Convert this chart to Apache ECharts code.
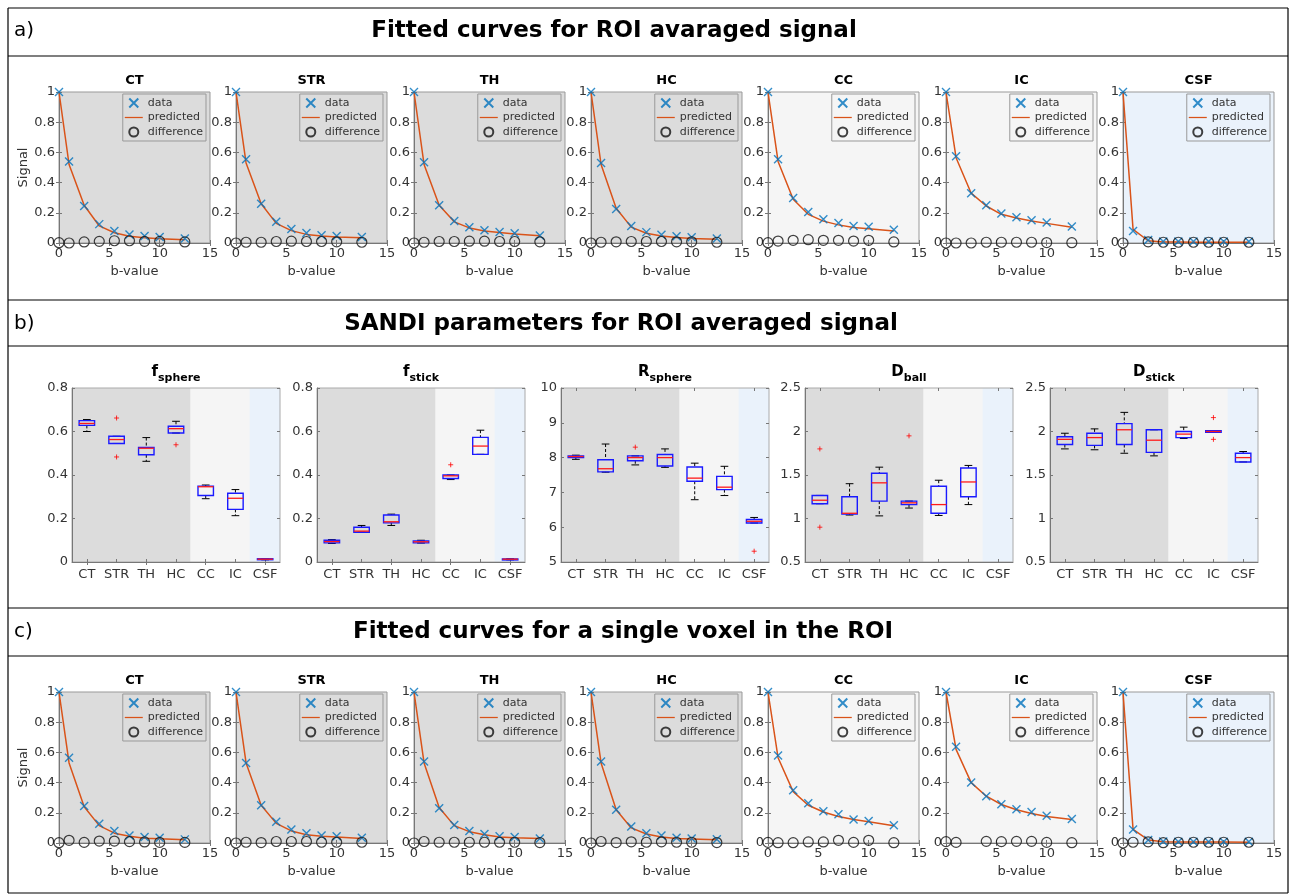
<!DOCTYPE html>
<html>
<head>
<meta charset="utf-8">
<title>SANDI fitted curves</title>
<script src="https://cdn.jsdelivr.net/npm/echarts@6/dist/echarts.min.js"></script>
<style>
html, body { margin: 0; padding: 0; background: #fff; }
#main { width: 1290px; height: 896px; }
</style>
</head>
<body>
<div id="main"></div>
<script>
var FONT = 'DejaVu Sans';

// regions and b-values
var regions = ['CT', 'STR', 'TH', 'HC', 'CC', 'IC', 'CSF'];
var bValues = [0, 1, 2.5, 4, 5.5, 7, 8.5, 10, 12.5];

// a) ROI averaged signal, one row per region
var roiData = [
    [1, 0.54, 0.245, 0.125, 0.08, 0.057, 0.046, 0.04, 0.03],
    [1, 0.555, 0.26, 0.14, 0.092, 0.066, 0.052, 0.046, 0.04],
    [1, 0.535, 0.25, 0.145, 0.105, 0.085, 0.073, 0.065, 0.05],
    [1, 0.53, 0.225, 0.112, 0.072, 0.055, 0.045, 0.038, 0.03],
    [1, 0.555, 0.298, 0.205, 0.157, 0.132, 0.113, 0.108, 0.088],
    [1, 0.575, 0.33, 0.25, 0.195, 0.17, 0.15, 0.135, 0.11],
    [1, 0.08, 0.02, 0.01, 0.01, 0.01, 0.01, 0.01, 0.01]
];
var roiPred = [
    [1, 0.52, 0.25, 0.113, 0.068, 0.045, 0.034, 0.028, 0.022],
    [1, 0.53, 0.26, 0.13, 0.082, 0.057, 0.046, 0.04, 0.034],
    [1, 0.52, 0.25, 0.14, 0.1, 0.08, 0.069, 0.06, 0.048],
    [1, 0.52, 0.23, 0.105, 0.065, 0.046, 0.036, 0.03, 0.025],
    [1, 0.54, 0.29, 0.19, 0.145, 0.12, 0.102, 0.095, 0.08],
    [1, 0.565, 0.33, 0.245, 0.19, 0.165, 0.145, 0.13, 0.105],
    [1, 0.09, 0.015, 0.007, 0.006, 0.005, 0.005, 0.005, 0.005]
];
var roiDiff = [
    [0.002, 0, 0.007, 0.011, 0.015, 0.015, 0.011, 0.011, 0.007],
    [0, 0.005, 0.005, 0.01, 0.012, 0.01, 0.01, 0.008, 0.005],
    [0, 0.005, 0.01, 0.01, 0.012, 0.012, 0.01, 0.01, 0.008],
    [0, 0.005, 0.008, 0.01, 0.01, 0.01, 0.008, 0.008, 0.005],
    [0.002, 0.013, 0.018, 0.022, 0.018, 0.018, 0.013, 0.018, 0.007],
    [0, 0, 0, 0.005, 0.005, 0.005, 0.005, 0.003, 0.002],
    [0, -0.002, 0.008, 0.005, 0.005, 0.005, 0.005, 0.005, 0.005]
];

// c) single voxel
var voxData = [
    [1, 0.565, 0.245, 0.128, 0.08, 0.05, 0.04, 0.035, 0.024],
    [1, 0.53, 0.25, 0.14, 0.09, 0.065, 0.05, 0.045, 0.035],
    [1, 0.54, 0.23, 0.12, 0.08, 0.06, 0.045, 0.04, 0.03],
    [1, 0.54, 0.22, 0.11, 0.065, 0.05, 0.035, 0.03, 0.025],
    [1, 0.58, 0.35, 0.263, 0.21, 0.19, 0.155, 0.146, 0.117],
    [1, 0.637, 0.4, 0.31, 0.256, 0.223, 0.205, 0.18, 0.159],
    [1, 0.09, 0.02, 0.01, 0.008, 0.008, 0.008, 0.008, 0.008]
];
var voxPred = [
    [1, 0.53, 0.24, 0.115, 0.065, 0.045, 0.032, 0.028, 0.022],
    [1, 0.53, 0.25, 0.13, 0.08, 0.055, 0.045, 0.04, 0.03],
    [1, 0.53, 0.235, 0.115, 0.075, 0.055, 0.04, 0.035, 0.03],
    [1, 0.53, 0.22, 0.1, 0.06, 0.04, 0.03, 0.027, 0.022],
    [1, 0.565, 0.34, 0.25, 0.205, 0.175, 0.155, 0.14, 0.115],
    [1, 0.62, 0.4, 0.31, 0.255, 0.22, 0.195, 0.175, 0.155],
    [1, 0.09, 0.02, 0.008, 0.007, 0.006, 0.006, 0.006, 0.005]
];
var voxDiff = [
    [0.002, 0.018, 0.004, 0.013, 0.013, 0.009, 0.007, 0.004, 0.004],
    [0, 0.005, 0.003, 0.01, 0.01, 0.01, 0.005, 0.005, 0.005],
    [0, 0.01, 0.005, 0.005, 0.005, 0.005, 0.005, 0.005, 0.003],
    [0, 0.01, 0.003, 0.008, 0.005, 0.008, 0.005, 0.005, 0.003],
    [0.004, 0.002, 0.002, 0.007, 0.007, 0.018, 0.004, 0.018, 0.002],
    [0.009, 0.004, -0.002, 0.011, 0.009, 0.011, 0.011, 0.004, 0.002],
    [0, 0.005, 0.008, 0.002, 0.005, 0.005, 0.005, 0.005, 0.005]
];

// b) box statistics per region: [low whisker, q1, median, q3, high whisker]
var fSphereBox = [
    [0.60, 0.628, 0.637, 0.65, 0.655],
    [0.545, 0.545, 0.563, 0.578, 0.578],
    [0.463, 0.493, 0.523, 0.527, 0.572],
    [0.593, 0.593, 0.613, 0.624, 0.647],
    [0.291, 0.306, 0.346, 0.349, 0.354],
    [0.213, 0.242, 0.293, 0.316, 0.333],
    [0.01, 0.011, 0.013, 0.015, 0.016]
];
var fSphereOut = [[1, 0.662], [1, 0.483], [3, 0.539]];

var fStickBox = [
    [0.085, 0.088, 0.094, 0.1, 0.103],
    [0.137, 0.137, 0.142, 0.16, 0.168],
    [0.168, 0.18, 0.185, 0.216, 0.22],
    [0.087, 0.088, 0.093, 0.097, 0.1],
    [0.379, 0.384, 0.396, 0.4, 0.4],
    [0.495, 0.495, 0.533, 0.573, 0.606],
    [0.01, 0.011, 0.013, 0.014, 0.015]
];
var fStickOut = [[4, 0.447]];

var rSphereBox = [
    [7.95, 8.0, 8.03, 8.05, 8.07],
    [7.58, 7.59, 7.68, 7.94, 8.39],
    [7.79, 7.91, 8.0, 8.05, 8.05],
    [7.72, 7.76, 8.0, 8.09, 8.25],
    [6.79, 7.32, 7.41, 7.73, 7.84],
    [6.91, 7.08, 7.15, 7.46, 7.75],
    [6.12, 6.12, 6.17, 6.22, 6.28]
];
var rSphereOut = [[2, 8.3], [6, 5.31]];

var dBallBox = [
    [1.17, 1.17, 1.21, 1.265, 1.265],
    [1.04, 1.05, 1.06, 1.25, 1.4],
    [1.03, 1.2, 1.41, 1.52, 1.59],
    [1.12, 1.16, 1.18, 1.2, 1.2],
    [1.035, 1.06, 1.16, 1.37, 1.44],
    [1.16, 1.25, 1.42, 1.58, 1.61],
    null
];
var dBallOut = [[0, 1.8], [0, 0.9], [3, 1.95]];

var dStickBox = [
    [1.8, 1.85, 1.91, 1.94, 1.98],
    [1.79, 1.84, 1.93, 1.98, 2.03],
    [1.75, 1.85, 2.02, 2.09, 2.22],
    [1.72, 1.76, 1.9, 2.02, 2.02],
    [1.92, 1.93, 1.97, 2.0, 2.05],
    [1.99, 1.99, 2.0, 2.01, 2.01],
    [1.65, 1.65, 1.7, 1.75, 1.77]
];
var dStickOut = [[5, 2.16], [5, 1.91]];

// look
var regionBg = ['#dcdcdc', '#dcdcdc', '#dcdcdc', '#dcdcdc', '#f5f5f5', '#f5f5f5', '#eaf2fb'];
var crossPath = 'path://M0,0L10,10M10,0L0,10';
var plusPath = 'path://M5,0L5,10M0,5L10,5';
// plain line for the "predicted" legend entry (invisible corners keep the aspect)
var lineIcon = 'path://M0,0L0,0M0,4.3L20,4.3L20,5.7L0,5.7ZM20,10L20,10';
var labelStyle = { color: '#333', fontSize: 13, fontFamily: FONT };

var grids = [], xAxes = [], yAxes = [], series = [], legends = [], texts = [];

function valueAxis(min, max, step, extra) {
    return Object.assign({
        type: 'value', min: min, max: max, interval: step,
        axisLine: { show: true, lineStyle: { color: '#777' } },
        axisTick: { show: true, inside: true, length: 3, lineStyle: { color: '#777' } },
        axisLabel: Object.assign({ margin: 4 }, labelStyle),
        splitLine: { show: false }
    }, extra || {});
}

function tickOnly(base, pos) {
    return Object.assign({}, base, {
        position: pos, name: '',
        axisLabel: { show: false },
        axisLine: { show: false },
        axisTick: { show: true, inside: true, alignWithLabel: true, length: 3, lineStyle: { color: '#777' } },
        splitLine: { show: false }
    });
}

function addGrid(g, xBase, yBase) {
    var gi = grids.length;
    grids.push(g);
    xBase.gridIndex = gi;
    yBase.gridIndex = gi;
    var xi = xAxes.length, yi = yAxes.length;
    xAxes.push(xBase, tickOnly(xBase, 'top'));
    yAxes.push(yBase, tickOnly(yBase, 'right'));
    return { xi: xi, yi: yi };
}

// line panels (a and c)
var lineLefts = [59, 236, 414, 591, 768, 946, 1123];
var lineW = 151, lineH = 151;

function addLinePanel(k, top, meas, pred, diff) {
    var left = lineLefts[k];
    var yExtra = k === 0 ? { name: 'Signal', nameLocation: 'middle', nameGap: 26, nameTextStyle: labelStyle } : {};
    var ax = addGrid(
        { left: left, top: top, width: lineW, height: lineH, show: true,
          backgroundColor: regionBg[k], borderColor: '#999', borderWidth: 1 },
        valueAxis(0, 15, 5, { name: 'b-value', nameLocation: 'middle', nameGap: 22, nameTextStyle: labelStyle }),
        valueAxis(0, 1, 0.2, yExtra)
    );
    function pts(vals) {
        return bValues.map(function (b, i) { return [b, vals[i]]; });
    }
    series.push({
        name: 'predicted', type: 'line', xAxisIndex: ax.xi, yAxisIndex: ax.yi,
        data: pts(pred), symbol: 'none', lineStyle: { color: '#D95319', width: 1.5 },
        itemStyle: { color: '#D95319' }, z: 2
    });
    series.push({
        name: 'data', type: 'scatter', xAxisIndex: ax.xi, yAxisIndex: ax.yi,
        data: pts(meas), symbol: crossPath, symbolSize: 8,
        itemStyle: { color: 'none', borderColor: '#0072BD', borderWidth: 1.4 }, z: 3
    });
    series.push({
        name: 'difference', type: 'scatter', xAxisIndex: ax.xi, yAxisIndex: ax.yi,
        data: pts(diff), symbol: 'circle', symbolSize: 10,
        itemStyle: { color: 'none', borderColor: '#111', borderWidth: 1.2 }, z: 3
    });
    legends.push({
        data: ['data', { name: 'predicted', icon: lineIcon }, 'difference'],
        orient: 'vertical', right: 1290 - (left + lineW - 4), top: top + 2,
        itemWidth: 18, itemHeight: 9, itemGap: 2, padding: [2, 3, 2, 2],
        borderColor: '#999', borderWidth: 1, backgroundColor: regionBg[k],
        selectedMode: false,
        textStyle: { fontSize: 11, fontFamily: FONT, color: '#333' }
    });
    texts.push({
        type: 'text', x: left + lineW / 2, y: top - 11,
        style: { text: regions[k], fontSize: 13, fontWeight: 'bold', fontFamily: FONT, fill: '#000',
                 align: 'center', verticalAlign: 'middle', textAlign: 'center', textVerticalAlign: 'middle' }
    });
}

// box panels (b)
var boxLefts = [72, 317, 561, 805, 1050];
var boxTop = 388, boxW = 208, boxH = 174;
var boxPanels = [
    { main: 'f', sub: 'sphere', min: 0, max: 0.8, step: 0.2, stats: fSphereBox, out: fSphereOut },
    { main: 'f', sub: 'stick', min: 0, max: 0.8, step: 0.2, stats: fStickBox, out: fStickOut },
    { main: 'R', sub: 'sphere', min: 5, max: 10, step: 1, stats: rSphereBox, out: rSphereOut },
    { main: 'D', sub: 'ball', min: 0.5, max: 2.5, step: 0.5, stats: dBallBox, out: dBallOut },
    { main: 'D', sub: 'stick', min: 0.5, max: 2.5, step: 0.5, stats: dStickBox, out: dStickOut }
];

function renderBand(params, api) {
    var i = api.value(0);
    var c = api.coord([i, api.value(1)]);
    var w = api.size([1, 0])[0];
    var cs = params.coordSys;
    // overlap neighbours slightly so no seams show
    var x0 = Math.max(cs.x, c[0] - w / 2 - 0.6);
    var x1 = Math.min(cs.x + cs.width, c[0] + w / 2 + 0.6);
    return {
        type: 'rect',
        shape: { x: x0, y: cs.y, width: x1 - x0, height: cs.height },
        style: { fill: regionBg[i] }
    };
}

function renderBox(params, api) {
    var i = api.value(0);
    var lo = api.coord([i, api.value(1)]);
    var q1 = api.coord([i, api.value(2)]);
    var md = api.coord([i, api.value(3)]);
    var q3 = api.coord([i, api.value(4)]);
    var hi = api.coord([i, api.value(5)]);
    var half = api.size([1, 0])[0] * 0.26;
    var cap = half * 0.5;
    var x = md[0];
    var dash = { stroke: '#000', lineWidth: 1, lineDash: [3, 2] };
    var solid = { stroke: '#000', lineWidth: 1 };
    return {
        type: 'group',
        children: [
            { type: 'line', shape: { x1: x, y1: hi[1], x2: x, y2: q3[1] }, style: dash },
            { type: 'line', shape: { x1: x, y1: q1[1], x2: x, y2: lo[1] }, style: dash },
            { type: 'line', shape: { x1: x - cap, y1: hi[1], x2: x + cap, y2: hi[1] }, style: solid },
            { type: 'line', shape: { x1: x - cap, y1: lo[1], x2: x + cap, y2: lo[1] }, style: solid },
            { type: 'rect', shape: { x: x - half, y: q3[1], width: 2 * half, height: Math.max(q1[1] - q3[1], 1) },
              style: { fill: 'none', stroke: '#1a1aff', lineWidth: 1.4 } },
            { type: 'line', shape: { x1: x - half, y1: md[1], x2: x + half, y2: md[1] },
              style: { stroke: '#ff1a1a', lineWidth: 1.3 } }
        ]
    };
}

function addBoxPanel(j) {
    var p = boxPanels[j];
    var left = boxLefts[j];
    var ax = addGrid(
        { left: left, top: boxTop, width: boxW, height: boxH, show: true,
          backgroundColor: 'transparent', borderColor: '#aaa', borderWidth: 1 },
        {
            type: 'category', data: regions, boundaryGap: true,
            axisLine: { show: true, lineStyle: { color: '#777' } },
            axisTick: { show: true, inside: true, alignWithLabel: true, length: 3, lineStyle: { color: '#777' } },
            axisLabel: Object.assign({ margin: 6, interval: 0 }, labelStyle),
            splitLine: { show: false }
        },
        valueAxis(p.min, p.max, p.step, {})
    );
    series.push({
        type: 'custom', xAxisIndex: ax.xi, yAxisIndex: ax.yi, z: -1, silent: true,
        renderItem: renderBand, encode: { x: 0, y: 1 },
        data: regions.map(function (r, i) { return [i, p.min]; })
    });
    var rows = [];
    p.stats.forEach(function (s, i) { if (s) rows.push([i].concat(s)); });
    series.push({
        type: 'custom', xAxisIndex: ax.xi, yAxisIndex: ax.yi, z: 3, silent: true,
        renderItem: renderBox, encode: { x: 0, y: [1, 2, 3, 4, 5] }, data: rows
    });
    series.push({
        type: 'scatter', xAxisIndex: ax.xi, yAxisIndex: ax.yi, z: 4, silent: true,
        data: p.out, symbol: plusPath, symbolSize: 5,
        itemStyle: { color: 'none', borderColor: '#ff0000', borderWidth: 1 }
    });
    texts.push({
        type: 'text', x: left + boxW / 2, y: boxTop - 16,
        style: {
            text: '{m|' + p.main + '}{s|' + p.sub + '}',
            align: 'center', verticalAlign: 'middle', textAlign: 'center', textVerticalAlign: 'middle',
            rich: {
                m: { fontSize: 15, fontWeight: 'bold', fontFamily: FONT, fill: '#000', color: '#000' },
                s: { fontSize: 11, fontWeight: 'bold', fontFamily: FONT, fill: '#000', color: '#000', padding: [13, 0, 0, 0] }
            }
        }
    });
}

for (var k = 0; k < regions.length; k++) {
    addLinePanel(k, 92, roiData[k], roiPred[k], roiDiff[k]);
    addLinePanel(k, 692, voxData[k], voxPred[k], voxDiff[k]);
}
for (var j = 0; j < boxPanels.length; j++) addBoxPanel(j);

// frame and section headers
function hLine(y) {
    return { type: 'line', shape: { x1: 8, y1: y, x2: 1288, y2: y }, style: { stroke: '#000', lineWidth: 1.2 } };
}
function header(y, cx, tag, title) {
    return [
        { type: 'text', x: 14, y: y, style: { text: tag, fontSize: 20, fontFamily: FONT, fill: '#000',
          verticalAlign: 'middle', textVerticalAlign: 'middle' } },
        { type: 'text', x: cx, y: y, style: { text: title, fontSize: 23, fontWeight: 'bold', fontFamily: FONT, fill: '#000',
          align: 'center', verticalAlign: 'middle', textAlign: 'center', textVerticalAlign: 'middle' } }
    ];
}
var frame = [8, 56, 300, 346, 608, 656, 893].map(hLine);
frame.push({ type: 'line', shape: { x1: 8, y1: 8, x2: 8, y2: 893 }, style: { stroke: '#000', lineWidth: 1.2 } });
frame.push({ type: 'line', shape: { x1: 1288, y1: 8, x2: 1288, y2: 893 }, style: { stroke: '#000', lineWidth: 1.2 } });
frame = frame
    .concat(header(31, 614, 'a)', 'Fitted curves for ROI avaraged signal'))
    .concat(header(324, 621, 'b)', 'SANDI parameters for ROI averaged signal'))
    .concat(header(632, 623, 'c)', 'Fitted curves for a single voxel in the ROI'));

var chart = echarts.init(document.getElementById('main'));
chart.setOption({
    animation: false,
    textStyle: { fontFamily: FONT },
    grid: grids,
    xAxis: xAxes,
    yAxis: yAxes,
    legend: legends,
    series: series,
    graphic: { elements: frame.concat(texts) }
});
</script>
</body>
</html>
